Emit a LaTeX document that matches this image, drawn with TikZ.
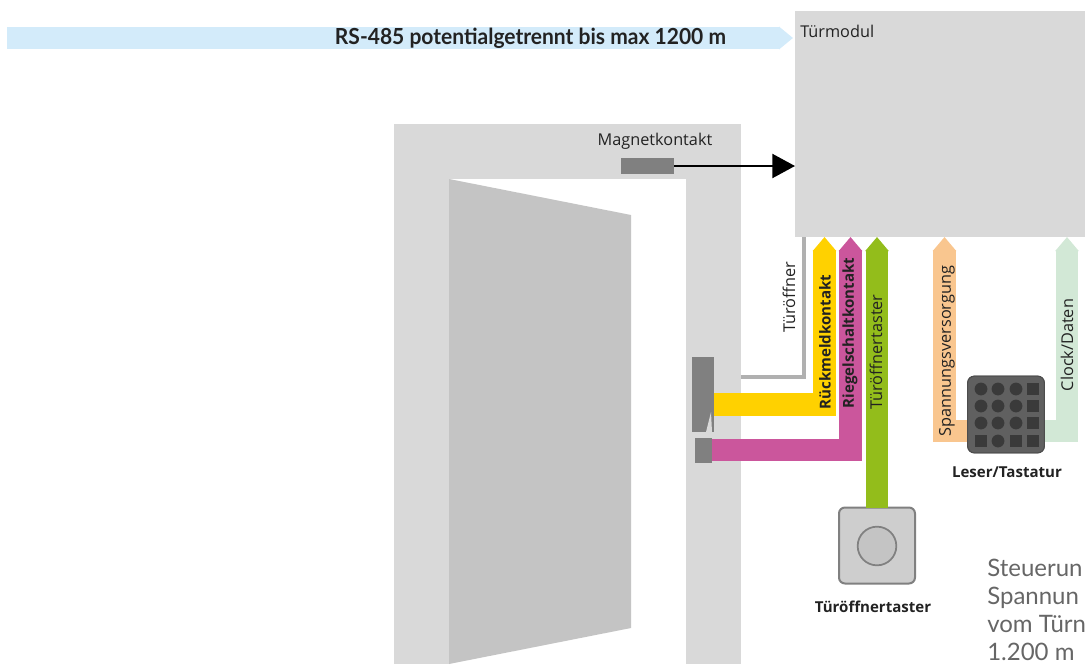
\documentclass[tikz,border=0pt]{standalone}
\usepackage{fontspec}
\setmainfont{Open Sans}
\newfontfamily\rsfont{Lato}
\usetikzlibrary{arrows.meta}
\definecolor{frameg}{HTML}{D9D9D9}
\definecolor{leafg}{HTML}{C4C4C4}
\definecolor{partg}{HTML}{808080}
\definecolor{rsblue}{HTML}{D3EBFA}
\definecolor{yel}{HTML}{FFD100}
\definecolor{mag}{HTML}{CB569C}
\definecolor{grn}{HTML}{93BD1B}
\definecolor{ora}{HTML}{F9C68F}
\definecolor{lgrn}{HTML}{D2E8D6}
\definecolor{txt}{HTML}{222222}
\definecolor{keyg}{HTML}{606060}
\definecolor{btng}{HTML}{3A3A3A}
\tikzset{
  x=0.75pt,y=-0.75pt,
  band/.style={draw=#1,line width=17pt,-{Triangle[length=10.5pt,width=0pt 1]}},
  lbl/.style={text=txt,font=\fontsize{12.2}{13}\selectfont,inner sep=0pt},
  blbl/.style={text=txt,font=\fontsize{11.3}{12}\selectfont\bfseries,inner sep=0pt},
  vlbl/.style={lbl,rotate=90},
  vblbl/.style={blbl,rotate=90},
  btnc/.style={circle,fill=btng,minimum size=9.6pt,inner sep=0pt},
  btns/.style={rectangle,fill=btng,minimum size=9.6pt,inner sep=0pt},
  bodytxt/.style={anchor=base west,inner sep=0pt,text=black!60,font=\rsfont\fontsize{18}{18}\selectfont},
  keybody/.style={fill=keyg,draw=keyg!80!black,line width=.8pt,rounded corners=5pt,minimum size=57.5pt,inner sep=0pt,outer sep=0pt},
}
\begin{document}
\begin{tikzpicture}
\useasboundingbox (0,0) rectangle (1085,664);
\clip (0,0) rectangle (1085,664);
% door frame
\fill[frameg] (394,124) rectangle (741,664);
\fill[white] (449,179) rectangle (686,664);
\fill[leafg] (449,179) -- (631,215) -- (631,628) -- (449,664) -- cycle;
% module
\node[fill=frameg,inner sep=0pt,outer sep=0pt,minimum width=217.5pt,minimum height=169.5pt,anchor=north west] (modul) at (795,11) {};
\node[lbl,anchor=west] (modullbl) at (800,31) {Türmodul};
% RS-485
\coordinate (rsstart) at (7,38);
\coordinate (rsend) at (793,38);
\draw[band=rsblue,line width=16.5pt] (rsstart) -- (rsend);
\node[inner sep=0pt,text=txt,font=\rsfont\fontsize{16.6}{17}\selectfont\bfseries] (rslbl) at (530.5,38) {\scalebox{0.95}[1]{RS-485 potentialgetrennt bis max 1200 m}};
% magnet contact
\node[fill=partg,inner sep=0pt,outer sep=0pt,minimum width=39.75pt,minimum height=12pt] (magnet) at (647.5,166) {};
\node[lbl] (magnetlbl) at (655,141) {Magnetkontakt};
\draw[line width=1.6pt,-{Triangle[length=17pt,width=18pt]}] (magnet.east) -- (magnet.east -| modul.west);
% lock
\node[fill=partg,inner sep=0pt,outer sep=0pt,minimum width=16.5pt,minimum height=56.25pt] (lockA) at (703,394.5) {};
\node[fill=partg,inner sep=0pt,outer sep=0pt,minimum width=12.75pt,minimum height=18.75pt] (lockB) at (703.5,450.5) {};
\fill[frameg] (711,412) -- (712,432) -- (706,432) -- cycle;
% bands
\coordinate (opnx) at (804,377);
\coordinate (yelc) at (824.5,404.5);
\coordinate (magc) at (850.5,450);
\coordinate (orac) at (944.5,431);
\coordinate (lgrc) at (1067,431);
\coordinate (frameE) at (741,377);
\draw[draw=leafg!90!black,line width=2.4pt] (frameE) -- (opnx) -- (opnx |- modul.south);
\draw[band=yel] (lockA.east |- yelc) -| (yelc |- modul.south);
\draw[band=mag] (lockB.east |- magc) -| (magc |- modul.south);
% taster
\node[draw=partg,line width=1.5pt,fill=frameg!95!black,rounded corners=4.5pt,minimum size=57pt,inner sep=0pt,outer sep=0pt] (taster) at (877,545.5) {};
\node[draw=partg,line width=1.3pt,fill=leafg,circle,minimum size=29pt,inner sep=0pt] (knob) at (877,546) {};
\node[blbl] (tasterlbl) at (873,607) {Türöffnertaster};
\draw[band=grn] (taster.north) -- (taster.north |- modul.south);
% keypad
\node[keybody] (keypad) at (1006,414.5) {};
\draw[band=ora] (keypad.west |- orac) -| (orac |- modul.south);
\draw[band=lgrn] (keypad.east |- lgrc) -| (lgrc |- modul.south);
\node[keybody] (keypadtop) at (1006,414.5) {};
\foreach \yy/\nn in {389/a,406/b,423/c}{
  \foreach \xx/\mm in {981/1,998/2,1016/3}{
    \node[btnc] (k\nn\mm) at (\xx,\yy) {};
  }
  \node[btns] (k\nn4) at (1033,\yy) {};
}
\node[btns] (kd1) at (981,441) {};
\node[btnc] (kd2) at (998,441) {};
\node[btns] (kd3) at (1016,441) {};
\node[btns] (kd4) at (1033,441) {};
\node[blbl] (keylbl) at (1007,472) {Leser/Tastatur};
% vertical labels
\node[vlbl] (l1) at (789,297) {Türöffner};
\node[vblbl] (l2) at (825,342) {Rückmeldkontakt};
\node[vblbl] (l3) at (850,333) {Riegelschaltkontakt};
\node[vlbl] (l4) at (876,352) {Türöffnertaster};
\node[vlbl] (l5) at (947,351) {Spannungsversorgung};
\node[vlbl] (l6) at (1067,345) {Clock/Daten};
% text block
\node[bodytxt] (t1) at (987,576) {Steuerun};
\node[bodytxt] (t2) at (987,604) {Spannun};
\node[bodytxt] (t3) at (987,632) {vom Türn};
\node[bodytxt] (t4) at (987,660) {1.200 m};
\end{tikzpicture}
\end{document}
